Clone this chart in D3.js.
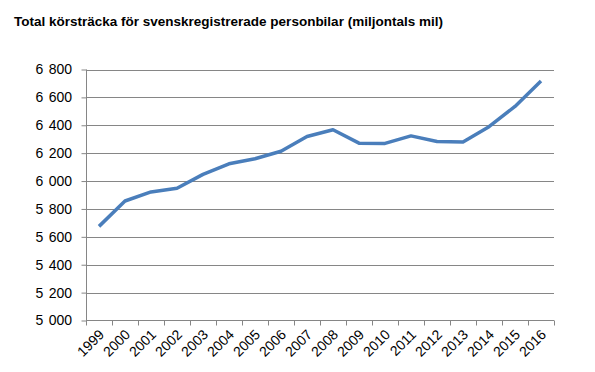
<!DOCTYPE html>
<html lang="sv">
<head>
<meta charset="UTF-8">
<title>körsträcka</title>
<script src="https://cdnjs.cloudflare.com/ajax/libs/d3/7.8.5/d3.min.js"></script>
<style>
    * { margin: 0; padding: 0; }
    body { background: #fff; font-family: "Liberation Sans", Arial, sans-serif; }
    .grid line { stroke: #868686; stroke-width: 1; }
    .axis path, .axis line { stroke: #868686; }
    .axis text { fill: #000; font-size: 14px; font-family: "Liberation Sans", Arial, sans-serif; }
    .yaxis text { word-spacing: 1.5px; }
</style>
</head>
<body>
<div id="chart"></div>
<script>
    var years = ["1999", "2000", "2001", "2002", "2003", "2004", "2005", "2006", "2007",
        "2008", "2009", "2010", "2011", "2012", "2013", "2014", "2015", "2016"];
    var mil = [5675, 5857, 5922, 5948, 6048, 6124, 6160, 6214, 6320,
        6368, 6272, 6270, 6324, 6284, 6280, 6390, 6535, 6717];
    var yTicks = [5000, 5200, 5400, 5600, 5800, 6000, 6200, 6400, 6600, 6800];

    var width = 595, height = 372;
    var mLeft = 86, mRight = 554, mTop = 69.5, mBottom = 320.5;

    var svg = d3.select("#chart").append("svg")
        .attr("width", width)
        .attr("height", height);

    svg.append("text")
        .attr("x", 14)
        .attr("y", 26)
        .style("font-weight", "bold")
        .style("font-size", "13.5px")
        .text("Total körsträcka för svenskregistrerade personbilar (miljontals mil)");

    var x = d3.scaleBand().domain(years).range([mLeft, mRight]);
    var y = d3.scaleLinear().domain([5000, 6800]).range([mBottom, mTop]);

    // horizontal gridlines
    svg.append("g").attr("class", "grid")
        .selectAll("line")
        .data(yTicks.slice(1))
        .enter().append("line")
        .attr("x1", mLeft).attr("x2", mRight)
        .attr("y1", function(d) { return Math.round(y(d)) + 0.5; })
        .attr("y2", function(d) { return Math.round(y(d)) + 0.5; });

    var yAxis = d3.axisLeft(y)
        .tickValues(yTicks)
        .tickSize(5)
        .tickPadding(9.5)
        .tickFormat(function(d) { return d3.format(",")(d).replace(",", " "); });

    svg.append("g").attr("class", "axis yaxis")
        .attr("transform", "translate(" + (mLeft + 0.5) + ",0)")
        .call(yAxis)
        .call(function(g) { g.select(".domain").attr("d", "M0," + mTop + "V" + mBottom); });

    // x axis, ticks between categories
    var xg = svg.append("g").attr("class", "axis")
        .attr("transform", "translate(0," + mBottom + ")");
    xg.append("line").attr("x1", mLeft).attr("x2", mRight).attr("y1", 0).attr("y2", 0);
    xg.selectAll("line.tk")
        .data(years.concat(["end"]))
        .enter().append("line").attr("class", "tk")
        .attr("x1", function(d, i) { return Math.round(mLeft + i * x.step()) + 0.5; })
        .attr("x2", function(d, i) { return Math.round(mLeft + i * x.step()) + 0.5; })
        .attr("y1", 0).attr("y2", 5);
    xg.selectAll("text")
        .data(years)
        .enter().append("text")
        .attr("text-anchor", "end")
        .attr("transform", function(d) {
            return "translate(" + (x(d) + x.bandwidth() / 2 + 6) + ",15) rotate(-45)";
        })
        .text(function(d) { return d; });

    var line = d3.line()
        .x(function(d, i) { return x(years[i]) + x.bandwidth() / 2; })
        .y(function(d) { return y(d); });

    svg.append("path")
        .datum(mil)
        .attr("d", line)
        .attr("fill", "none")
        .attr("stroke", "#4a7ebb")
        .attr("stroke-width", 3.5)
        .attr("stroke-linejoin", "round");
</script>
</body>
</html>
